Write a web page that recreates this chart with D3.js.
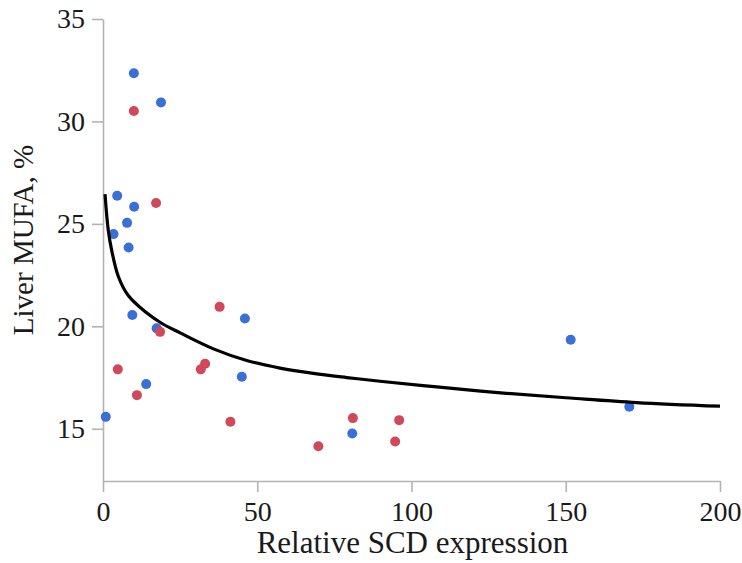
<!DOCTYPE html>
<html>
<head>
<meta charset="utf-8">
<script src="https://cdn.jsdelivr.net/npm/d3@7"></script>
<style>
  html, body { margin: 0; padding: 0; background: #fff; }
  svg { display: block; }
</style>
</head>
<body>
<svg id="chart" width="742" height="563"></svg>
<script>
// Blue group points (Relative SCD expression, Liver MUFA %)
const blueX = [0.9, 3.4, 4.6, 10.0, 18.8, 10.1, 7.8, 8.3, 9.5, 17.4, 14.0, 46.0, 45.0, 80.8, 151.6, 170.6];
const blueY = [15.58, 24.5, 26.37, 32.35, 30.93, 25.84, 25.05, 23.85, 20.55, 19.9, 17.18, 20.38, 17.54, 14.77, 19.34, 16.07];
// Red group points
const redX = [10.0, 17.2, 4.8, 11.0, 18.5, 37.8, 31.7, 33.1, 41.3, 69.8, 81.0, 96.0, 94.7];
const redY = [30.51, 26.02, 17.9, 16.64, 19.73, 20.95, 17.9, 18.17, 15.34, 14.15, 15.52, 15.42, 14.38];
// Fitted trend line
const fitX = [0.65, 1.7, 2.8, 5, 8.2, 13.6, 19, 25, 35.8, 46.6, 57.4, 68.2, 79, 89.8, 108.2, 129.8, 151.4, 173, 200];
const fitY = [26.45, 24.7, 23.72, 22.42, 21.5, 20.72, 20.15, 19.68, 18.9, 18.33, 17.96, 17.7, 17.5, 17.32, 17.04, 16.74, 16.5, 16.28, 16.1];
// Tick values
const xTicks = [0, 50, 100, 150, 200];
const yTicks = [15, 20, 25, 30, 35];

const svg = d3.select("#chart");
const margin = {top: 19, right: 22, bottom: 82, left: 103};
const W = 742, H = 563;

const x = d3.scaleLinear().domain([0, 200]).range([margin.left, W - margin.right]);
const y = d3.scaleLinear().domain([12.45, 35]).range([H - margin.bottom, margin.top]);

const axisColor = "#b3b3b3";
const font = "'Liberation Serif', 'Times New Roman', serif";

// X axis
const gx = svg.append("g")
  .attr("transform", `translate(0,${H - margin.bottom})`)
  .call(d3.axisBottom(x).tickValues(xTicks).tickSize(11).tickSizeOuter(0).tickPadding(10).tickFormat(d3.format("d")));
// Y axis
const gy = svg.append("g")
  .attr("transform", `translate(${margin.left},0)`)
  .call(d3.axisLeft(y).tickValues(yTicks).tickSize(11).tickSizeOuter(0).tickPadding(7).tickFormat(d3.format("d")));

[gx, gy].forEach(g => {
  g.select(".domain").attr("stroke", axisColor).attr("stroke-width", 1.6);
  g.selectAll(".tick line").attr("stroke", axisColor).attr("stroke-width", 1.6);
  g.selectAll(".tick text").attr("fill", "#1a1a1a").style("font-family", font).style("font-size", "28px");
});
gx.selectAll(".tick text").attr("dy", "0.68em");

// Axis titles
svg.append("text")
  .attr("x", (margin.left + W - margin.right) / 2 + 1)
  .attr("y", 553)
  .attr("text-anchor", "middle")
  .attr("fill", "#1a1a1a")
  .style("font-family", font).style("font-size", "31px")
  .text("Relative SCD expression");

svg.append("text")
  .attr("transform", "translate(33,240) rotate(-90)")
  .attr("text-anchor", "middle")
  .attr("fill", "#1a1a1a")
  .style("font-family", font).style("font-size", "29px")
  .text("Liver MUFA, %");

// Points
const blue = blueX.map((v, i) => ({x: v, y: blueY[i]}));
const red = redX.map((v, i) => ({x: v, y: redY[i]}));

svg.append("g").selectAll("circle").data(blue).join("circle")
  .attr("cx", d => x(d.x)).attr("cy", d => y(d.y)).attr("r", 5)
  .attr("fill", "#3a6fd8");

svg.append("g").selectAll("circle").data(red).join("circle")
  .attr("cx", d => x(d.x)).attr("cy", d => y(d.y)).attr("r", 5)
  .attr("fill", "#d0485a");

// Trend line
const fit = fitX.map((v, i) => ({x: v, y: fitY[i]}));
svg.append("path")
  .datum(fit)
  .attr("fill", "none")
  .attr("stroke", "#000")
  .attr("stroke-width", 3.2)
  .attr("d", d3.line().x(d => x(d.x)).y(d => y(d.y)).curve(d3.curveCatmullRom.alpha(0.5)));
</script>
</body>
</html>
